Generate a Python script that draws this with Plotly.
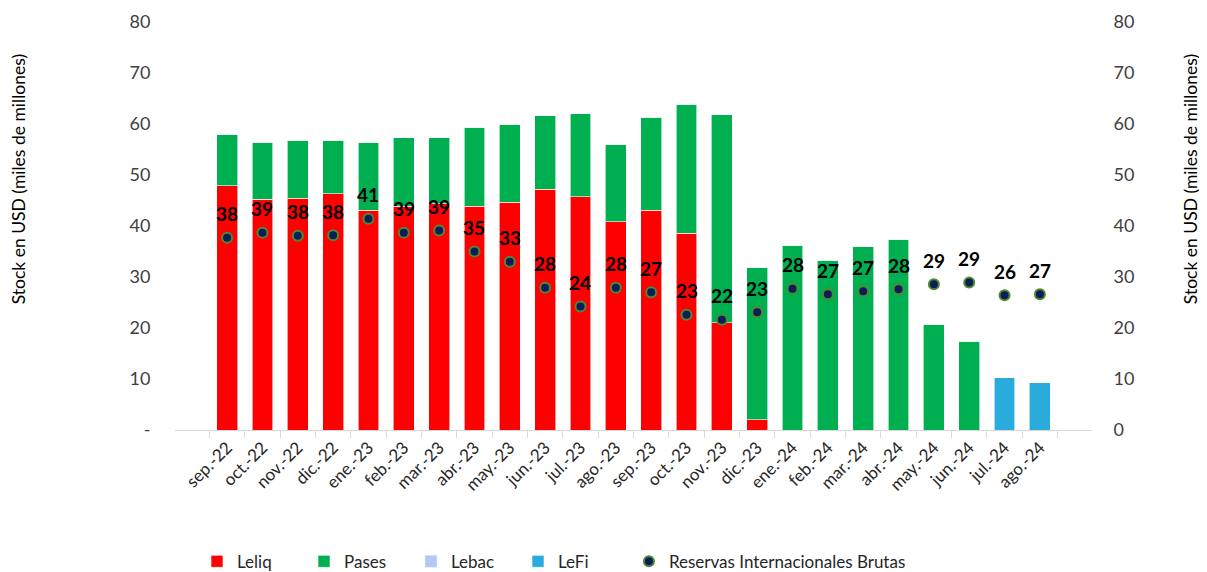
import plotly.graph_objects as go

meses = ["sep.-22", "oct.-22", "nov.-22", "dic.-22", "ene.-23", "feb.-23", "mar.-23",
         "abr.-23", "may.-23", "jun.-23", "jul.-23", "ago.-23", "sep.-23", "oct.-23",
         "nov.-23", "dic.-23", "ene.-24", "feb.-24", "mar.-24", "abr.-24", "may.-24",
         "jun.-24", "jul.-24", "ago.-24"]

leliq = [47.9, 45.2, 45.4, 46.3, 43.1, 43.9, 44.4, 43.9, 44.7, 47.2, 45.7, 40.8,
         43.1, 38.6, 21.0, 2.0, 0, 0, 0, 0, 0, 0, 0, 0]
pases = [10.0, 11.2, 11.4, 10.5, 13.3, 13.4, 12.9, 15.5, 15.3, 14.4, 16.3, 15.1,
         18.2, 25.3, 40.8, 29.9, 36.2, 33.3, 35.9, 37.4, 20.6, 17.4, 0, 0]
lebac = [0] * 24
lefi = [0] * 22 + [10.2, 9.3]
reservas = [37.7, 38.7, 38.1, 38.2, 41.4, 38.7, 39.1, 35.0, 33.0, 27.9, 24.2, 27.9,
            27.0, 22.6, 21.6, 23.1, 27.7, 26.6, 27.2, 27.6, 28.6, 28.9, 26.4, 26.6]

y_ticks = [0, 10, 20, 30, 40, 50, 60, 70, 80]

fnt = "Lato, 'Open Sans', sans-serif"
borde = dict(width=1, color="rgba(255,255,255,0.6)")

fig = go.Figure()
fig.add_bar(x=meses, y=leliq, name="Leliq", marker_color="#FF0000", marker_line=borde)
fig.add_bar(x=meses, y=pases, name="Pases", marker_color="#00B050", marker_line=borde)
fig.add_bar(x=meses, y=lebac, name="Lebac", marker_color="#B4C7F7")
fig.add_bar(x=meses, y=lefi, name="LeFi", marker_color="#29ABDB", marker_line=borde)
fig.add_scatter(x=meses, y=reservas, name="Reservas Internacionales Brutas",
                mode="markers", yaxis="y2", legend="legend2",
                marker=dict(size=10, color="#0B1D5C",
                            line=dict(width=2, color="#4E8A2E")))

# etiquetas de reservas
for m, r in zip(meses, reservas):
    fig.add_annotation(x=m, y=r, yref="y2", text=f"<b>{r:.0f}</b>", showarrow=False,
                       yshift=24, font=dict(size=19, color="black", family=fnt))

# the page body has an 8px margin, so the figure is a bit smaller
fig.update_layout(
    barmode="stack",
    bargap=0.41,
    width=1199, height=564,
    margin=dict(l=167, r=115, t=14, b=142, autoexpand=False),
    plot_bgcolor="white", paper_bgcolor="white",
    font=dict(family=fnt, size=16, color="#404040"),
    legend=dict(orientation="h", traceorder="normal", x=0.024, xanchor="left",
                y=-0.323, yanchor="middle",
                entrywidth=62, entrywidthmode="pixels",
                font=dict(size=17, color="#262626")),
    legend2=dict(orientation="h", x=0.495, xanchor="left",
                 y=-0.323, yanchor="middle",
                 font=dict(size=17, color="#262626")),
    xaxis=dict(tickangle=-45, showline=True, linecolor="#D9D9D9", linewidth=1,
               ticks="outside", tickson="boundaries", ticklen=7, tickcolor="#D9D9D9",
               tickfont=dict(size=17, color="#262626"), automargin=False),
    yaxis=dict(range=[0, 80], tickvals=y_ticks,
               ticktext=["-" if v == 0 else str(v) for v in y_ticks],
               showgrid=False, zeroline=False, ticks="outside", ticklen=20,
               tickcolor="rgba(0,0,0,0)", tickfont=dict(size=18, color="#404040"),
               automargin=False),
    yaxis2=dict(range=[0, 80], tickvals=y_ticks, ticktext=[str(v) for v in y_ticks],
                overlaying="y", side="right", showgrid=False, zeroline=False,
                ticks="outside", ticklen=17, tickcolor="rgba(0,0,0,0)",
                tickfont=dict(size=18, color="#404040"), automargin=False),
)

for xpos in (-0.171, 1.107):
    fig.add_annotation(x=xpos, y=0.615, xref="paper", yref="paper", xanchor="center",
                       yanchor="middle",
                       text="Stock en USD (miles de millones)", textangle=-90,
                       showarrow=False, font=dict(size=17.5, color="black", family=fnt))

fig.write_html("out.html")
